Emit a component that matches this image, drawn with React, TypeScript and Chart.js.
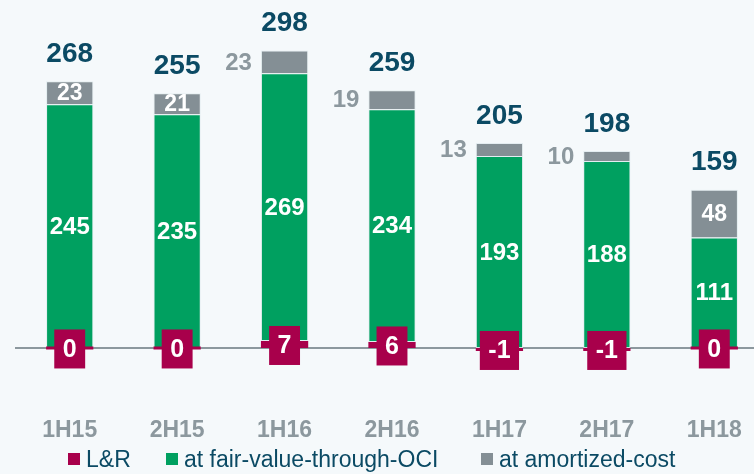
import React, { useEffect, useRef } from "react";
import { Chart, registerables } from "chart.js";

Chart.register(...registerables);

const categories = ["1H15", "2H15", "1H16", "2H16", "1H17", "2H17", "1H18"];
const loansReceivables = [0, 0, 7, 6, -1, -1, 0];
const fairValueOCI = [245, 235, 269, 234, 193, 188, 111];
const amortizedCost = [23, 21, 23, 19, 13, 10, 48];
const totals = [268, 255, 298, 259, 205, 198, 159];
const amortizedLabelOutside = [false, false, true, true, true, true, false];
const seriesNames = ["L&R", "at fair-value-through-OCI", "at amortized-cost"];

const MAGENTA = "#a8004b";
const GREEN = "#00a060";
const GREY = "#848f95";
const NAVY = "#0b4a64";
const LABEL_GREY = "#8c989e";
const BG = "#f5f9fb";
const FONT = "'Liberation Sans', Arial, sans-serif";

const labelPlugin = {
  id: "customLabels",
  beforeDraw(chart: any) {
    const { ctx, width, height } = chart;
    ctx.save();
    ctx.fillStyle = BG;
    ctx.fillRect(0, 0, width, height);
    ctx.restore();
  },
  beforeDatasetsDraw(chart: any) {
    const { ctx, width } = chart;
    const y0 = chart.scales.y.getPixelForValue(0);
    ctx.save();
    ctx.strokeStyle = LABEL_GREY;
    ctx.lineWidth = 2;
    ctx.beginPath();
    ctx.moveTo(15, y0);
    ctx.lineTo(width, y0);
    ctx.stroke();
    ctx.restore();
  },
  afterDatasetsDraw(chart: any) {
    const { ctx } = chart;
    const m0 = chart.getDatasetMeta(0);
    const m1 = chart.getDatasetMeta(1);
    const m2 = chart.getDatasetMeta(2);
    ctx.save();
    ctx.textAlign = "center";
    ctx.textBaseline = "middle";
    categories.forEach((_, i) => {
      const e1 = m1.data[i];
      ctx.font = `bold 24px ${FONT}`;
      ctx.fillStyle = "#ffffff";
      ctx.fillText(String(fairValueOCI[i]), e1.x, (e1.y + e1.base) / 2 + 1);

      const e2 = m2.data[i];
      const cy2 = (e2.y + e2.base) / 2 + 1;
      if (amortizedLabelOutside[i]) {
        ctx.font = `bold 24px ${FONT}`;
        ctx.fillStyle = LABEL_GREY;
        ctx.textAlign = "right";
        ctx.fillText(String(amortizedCost[i]), e2.x - e2.width / 2 - 9, cy2);
        ctx.textAlign = "center";
      } else {
        ctx.font = `bold 23px ${FONT}`;
        ctx.fillStyle = "#ffffff";
        ctx.fillText(String(amortizedCost[i]), e2.x, cy2);
      }

      ctx.font = `bold 28px ${FONT}`;
      ctx.fillStyle = NAVY;
      ctx.fillText(String(totals[i]), e2.x, e2.y - 27);

      const e0 = m0.data[i];
      ctx.font = `bold 25px ${FONT}`;
      const txt = String(loansReceivables[i]);
      const tw = ctx.measureText(txt).width;
      const bw = tw + 17;
      const bh = 39;
      const cy0 = (e0.y + e0.base) / 2 + 1;
      ctx.fillStyle = MAGENTA;
      ctx.fillRect(e0.x - bw / 2, cy0 - bh / 2, bw, bh);
      ctx.fillStyle = "#ffffff";
      ctx.fillText(txt, e0.x, cy0 + 1);
    });
    ctx.restore();
  },
  afterDraw(chart: any) {
    const { ctx } = chart;
    const items = [
      { x: 68, color: MAGENTA },
      { x: 166, color: GREEN },
      { x: 481, color: GREY },
    ];
    ctx.save();
    ctx.font = `23px ${FONT}`;
    ctx.textAlign = "left";
    ctx.textBaseline = "middle";
    items.forEach((it, k) => {
      ctx.fillStyle = it.color;
      ctx.fillRect(it.x, 453, 12, 12);
      ctx.fillStyle = NAVY;
      ctx.fillText(seriesNames[k], it.x + 18, 461);
    });
    ctx.restore();
  },
};

export default function App() {
  const ref = useRef<HTMLCanvasElement | null>(null);
  useEffect(() => {
    if (!ref.current) return;
    const barCommon = {
      barPercentage: 0.44,
      categoryPercentage: 1,
      borderColor: "rgba(225,235,238,0.85)",
      borderSkipped: false,
    };
    const chart = new Chart(ref.current, {
      type: "bar",
      data: {
        labels: categories,
        datasets: [
          { label: seriesNames[0], data: loansReceivables, backgroundColor: MAGENTA, minBarLength: 3, ...barCommon, borderWidth: 0 },
          { label: seriesNames[1], data: fairValueOCI, backgroundColor: GREEN, ...barCommon, borderWidth: 1 },
          { label: seriesNames[2], data: amortizedCost, backgroundColor: GREY, ...barCommon, borderWidth: { top: 1, left: 1, right: 1, bottom: 0 } },
        ],
      },
      options: {
        animation: false,
        responsive: false,
        maintainAspectRatio: false,
        layout: { padding: { left: 16, right: 2, top: 20, bottom: 24 } },
        plugins: { legend: { display: false }, tooltip: { enabled: false } },
        scales: {
          x: {
            stacked: true,
            grid: { display: false, drawTicks: false },
            border: { display: false },
            ticks: { color: LABEL_GREY, font: { family: FONT, size: 23, weight: "bold" }, padding: 17 },
            afterFit: (s: any) => { s.height = 50; },
          },
          y: {
            stacked: true,
            display: false,
            min: -52.3,
            max: 329.6,
          },
        },
      },
      plugins: [labelPlugin],
    } as any);
    return () => chart.destroy();
  }, []);
  return (
    <div style={{ position: "fixed", left: 0, top: 0, width: 754, height: 474, overflow: "hidden", background: BG }}>
      <canvas ref={ref} width={770} height={474} style={{ display: "block", width: 770, height: 474 }} />
    </div>
  );
}
